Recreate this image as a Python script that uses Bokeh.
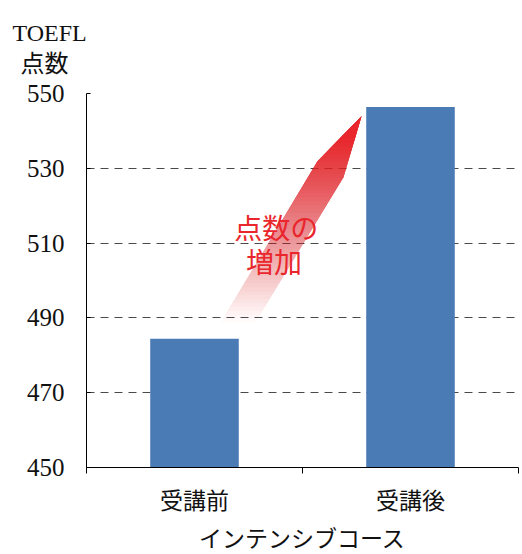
from bokeh.plotting import figure
from bokeh.models import FixedTicker, Label, Range1d, Title
from bokeh.embed import file_html
from bokeh.resources import INLINE

# ---- data ----
categories = ["受講前", "受講後"]
scores = [484.4, 546.4]
y_ticks = [450, 470, 490, 510, 530, 550]
x_title = "インテンシブコース"
y_title_lines = ["TOEFL", "\u2004点数"]
note_lines = ["点数の", "増加"]

# annotation arrow outline (data coordinates)
arrow_x = [0.120, 0.569, 0.773, 0.690, 0.282]
arrow_y = [488.7, 531.9, 543.9, 527.6, 488.7]

BAR_COLOR = "#4a7bb5"
RED = "#e9262c"
JP = "Noto Sans CJK JP"
SERIF = "Liberation Serif"
MIXED = "Liberation Serif, Noto Sans CJK JP"

x_pos = list(range(len(categories)))

p = figure(width=522, height=554,
           x_range=Range1d(-0.5, 1.5), y_range=Range1d(450, 550),
           output_backend="svg", toolbar_location=None,
           min_border_left=86, min_border_right=4,
           min_border_top=93, min_border_bottom=86)
p.outline_line_color = None
p.background_fill_color = "white"

# grid
p.xgrid.visible = False
p.ygrid.ticker = FixedTicker(ticks=y_ticks[1:])
p.ygrid.grid_line_color = "#4a4a4a"
p.ygrid.grid_line_dash = "8 6"
p.ygrid.grid_line_width = 1

# gradient arrow via stacked translucent clips
def clip_above(xs, ys, c):
    out_x, out_y = [], []
    n = len(xs)
    for i in range(n):
        x1, y1 = xs[i], ys[i]
        x2, y2 = xs[(i + 1) % n], ys[(i + 1) % n]
        in1, in2 = y1 >= c, y2 >= c
        if in1:
            out_x.append(x1); out_y.append(y1)
        if in1 != in2:
            t = (c - y1) / (y2 - y1)
            out_x.append(x1 + t * (x2 - x1)); out_y.append(c)
    return out_x, out_y

nb = 48
y_bot = min(arrow_y)
y_full = 539.0
pxs, pys, alphas = [], [], []
for k in range(1, nb + 1):
    c = y_bot + (k - 1) * (y_full - y_bot) / nb
    cx, cy = clip_above(arrow_x, arrow_y, c)
    if len(cx) >= 3:
        pxs.append(cx); pys.append(cy); alphas.append(1.0 / (nb - k + 1))
p.patches(pxs, pys, fill_color=RED, fill_alpha=alphas, line_color=None)

# bars
p.vbar(x=x_pos, top=scores, bottom=450, width=0.41,
       fill_color=BAR_COLOR, line_color=None)

# axes
xa = p.xaxis[0]
xa.ticker = FixedTicker(ticks=x_pos, minor_ticks=[i - 0.5 for i in x_pos] + [len(x_pos) - 0.5])
xa.major_label_overrides = {i: c for i, c in zip(x_pos, categories)}
xa.major_tick_out = 0
xa.major_tick_in = 0
xa.minor_tick_out = 6
xa.minor_tick_in = 0
xa.axis_line_color = "black"
xa.minor_tick_line_color = "black"
xa.major_label_text_font = MIXED
xa.major_label_text_font_size = "23px"
xa.major_label_text_color = "#111111"
xa.major_label_standoff = 15
xa.axis_label = x_title
xa.axis_label_text_font = MIXED
xa.axis_label_text_font_size = "23px"
xa.axis_label_text_font_style = "normal"
xa.axis_label_text_color = "#111111"
xa.axis_label_standoff = 10

ya = p.yaxis[0]
ya.ticker = FixedTicker(ticks=y_ticks)
ya.major_tick_in = 4
ya.major_tick_out = 0
ya.minor_tick_line_color = None
ya.axis_line_color = "black"
ya.major_tick_line_color = "black"
ya.major_label_text_font = SERIF
ya.major_label_text_font_size = "25px"
ya.major_label_text_color = "#111111"
ya.major_label_standoff = 22

# y title, two lines above the plot, left of the axis
yt = Title(text="\n".join(y_title_lines), align="left", offset=-74, standoff=33,
           text_font=MIXED, text_font_size="24px", text_font_style="normal",
           text_color="#111111", text_line_height=1.2)
p.add_layout(yt, "above")

# note text
p.add_layout(Label(x=0.378, y=514.3, text=note_lines[0], text_align="center",
                   text_baseline="middle", text_font=JP, text_font_size="28px",
                   text_color=RED))
p.add_layout(Label(x=0.368, y=505.2, text=note_lines[1], text_align="center",
                   text_baseline="middle", text_font=JP, text_font_size="28px",
                   text_color=RED))

open("out.html", "w").write(file_html(p, INLINE))
